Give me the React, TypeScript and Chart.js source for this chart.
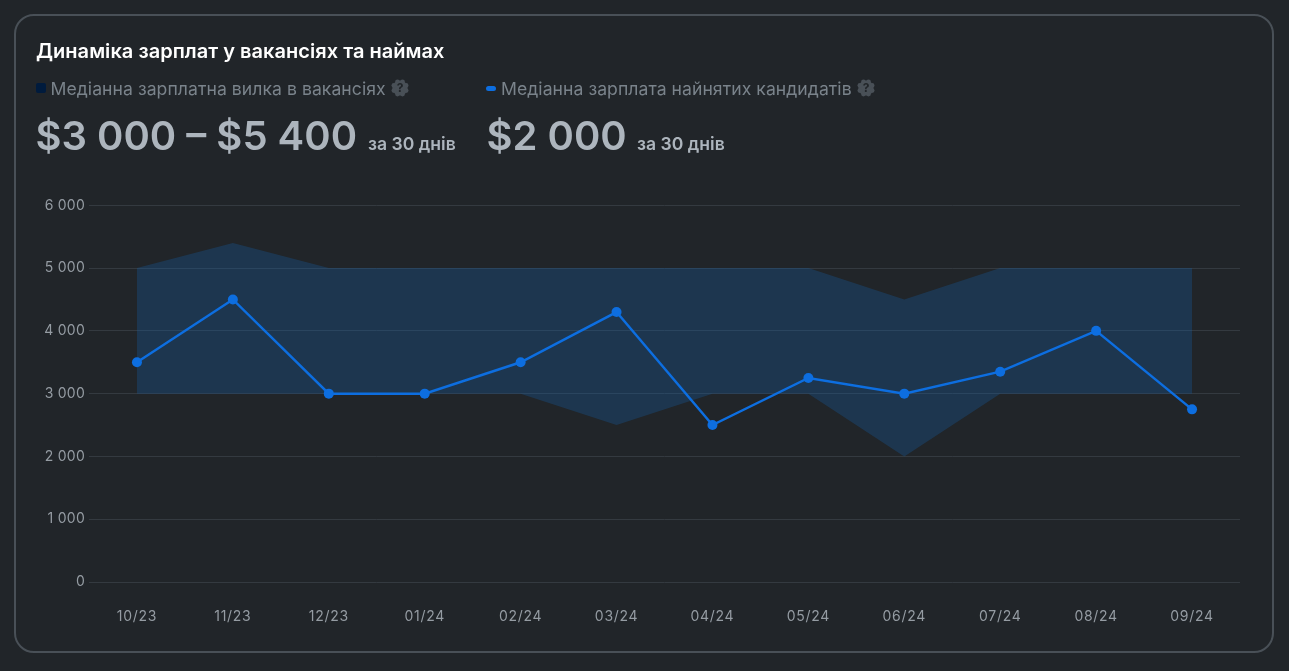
import React, { useEffect, useRef } from "react";
import { Chart, registerables } from "chart.js";

Chart.register(...registerables);

const categories = ["10/23", "11/23", "12/23", "01/24", "02/24", "03/24", "04/24", "05/24", "06/24", "07/24", "08/24", "09/24"];
const vacancyLow = [3000, 3000, 3000, 3000, 3000, 2500, 3000, 3000, 2000, 3000, 3000, 3000];
const vacancyHigh = [5000, 5400, 5000, 5000, 5000, 5000, 5000, 5000, 4500, 5000, 5000, 5000];
const hiredSalary = [3500, 4500, 3000, 3000, 3500, 4300, 2500, 3250, 3000, 3350, 4000, 2750];
const yTicks = [0, 1000, 2000, 3000, 4000, 5000, 6000];

const FONT = "Inter, 'Noto Sans', sans-serif";
const BLUE = "#0d6ee0";

const fmt = (v: number) => String(v).replace(/\B(?=(\d{3})+$)/g, " ");

const abs = (left: number, top: number, extra: React.CSSProperties): React.CSSProperties => ({
  position: "absolute",
  left,
  top,
  whiteSpace: "nowrap",
  fontFamily: FONT,
  ...extra,
});

function Help({ x, y }: { x: number; y: number }) {
  const bumps = [0, 1, 2, 3, 4, 5, 6, 7].map((i) => (i * Math.PI) / 4 + Math.PI / 8);
  return (
    <svg width={18} height={18} viewBox="0 0 18 18" style={abs(x, y, {})}>
      <circle cx={9} cy={9} r={7.6} fill="#495057" />
      {bumps.map((a, i) => (
        <circle key={i} cx={9 + 6.6 * Math.cos(a)} cy={9 + 6.6 * Math.sin(a)} r={2.4} fill="#495057" />
      ))}
      <text x={9} y={13.2} textAnchor="middle" fontSize={12} fontWeight={700} fontFamily="Inter" fill="#212529">
        ?
      </text>
    </svg>
  );
}

const spacingPlugin = {
  id: "tickSpacing",
  beforeDraw(chart: any) {
    const wrap = (scale: any, spacing: string) => {
      if (scale.__wrapped) return;
      scale.__wrapped = true;
      const orig = scale.drawLabels.bind(scale);
      scale.drawLabels = (area: any) => {
        const ctx = chart.ctx;
        ctx.letterSpacing = spacing;
        orig(area);
        ctx.letterSpacing = "0px";
      };
    };
    wrap(chart.scales.x, "0.7px");
    wrap(chart.scales.y, "0.25px");
  },
};

export default function App() {
  const ref = useRef<HTMLCanvasElement>(null);
  useEffect(() => {
    const chart = new Chart(ref.current!, {
      type: "line",
      plugins: [spacingPlugin],
      data: {
        labels: categories,
        datasets: [
          {
            label: "Медіанна зарплата найнятих кандидатів",
            data: hiredSalary,
            borderColor: BLUE,
            backgroundColor: BLUE,
            borderWidth: 2.5,
            pointRadius: 5,
            pointBackgroundColor: BLUE,
            pointBorderWidth: 0,
            tension: 0,
            order: 0,
          },
          {
            label: "low",
            data: vacancyLow,
            borderWidth: 0,
            pointRadius: 0,
            fill: false,
            tension: 0,
            order: 2,
          },
          {
            label: "Медіанна зарплатна вилка в вакансіях",
            data: vacancyHigh,
            borderWidth: 0,
            pointRadius: 0,
            backgroundColor: "rgba(20,95,170,0.3)",
            fill: "-1",
            tension: 0,
            order: 1,
          },
        ],
      },
      options: {
        animation: false,
        responsive: false,
        devicePixelRatio: 1,
        layout: { padding: { left: 0, right: 49, top: 205.3, bottom: 0 } },
        plugins: { legend: { display: false }, tooltip: { enabled: false } },
        scales: {
          x: {
            offset: true,
            afterFit: (s: any) => {
              s.height = 89;
            },
            grid: { display: false },
            border: { display: false },
            ticks: { color: "#959ca3", font: { family: "Inter", size: 14 }, padding: 18, maxRotation: 0, autoSkip: false },
          },
          y: {
            min: 0,
            max: 6000,
            afterFit: (s: any) => {
              s.width = 89;
            },
            afterBuildTicks: (s: any) => {
              s.ticks = yTicks.map((value) => ({ value }));
            },
            grid: { color: "#343a40", lineWidth: 1, drawTicks: false },
            border: { display: false },
            ticks: {
              color: "#959ca3",
              font: { family: "Inter", size: 14 },
              padding: 4,
              callback: (v: any) => fmt(Number(v)),
            },
          },
        },
      },
    } as any);
    return () => chart.destroy();
  }, []);

  return (
    <div style={{ position: "fixed", inset: 0, background: "#212529", overflow: "hidden" }}>
      <div
        style={{
          position: "absolute",
          left: 14,
          top: 14,
          width: 1256,
          height: 635,
          border: "2px solid #495057",
          borderRadius: 20,
        }}
      />
      <canvas ref={ref} width={1289} height={671} style={{ position: "absolute", left: 0, top: 0, width: 1289, height: 671 }} />
      <div style={abs(36, 39, { color: "#fff", fontSize: 20, fontWeight: 600, lineHeight: "24px", letterSpacing: 0.03 })}>
        Динаміка зарплат у вакансіях та наймах
      </div>
      <div style={abs(36, 83, { width: 10, height: 10, borderRadius: 2, background: "#001b3d" })} />
      <div style={abs(50.5, 78, { color: "#7a838b", fontSize: 17.6, lineHeight: "22px", letterSpacing: 0.05 })}>
        Медіанна зарплатна вилка в вакансіях
      </div>
      <Help x={391} y={79} />
      <div style={abs(35.5, 108, { color: "#adb5bd", fontSize: 40, fontWeight: 600, lineHeight: "56px" })}>$3 000 – $5 400</div>
      <div style={abs(368, 133, { color: "#adb5bd", fontSize: 17.6, fontWeight: 600, lineHeight: "22px" })}>за 30 днів</div>

      <div style={abs(486, 86, { width: 10, height: 5, borderRadius: 3, background: BLUE })} />
      <div style={abs(501, 78, { color: "#7a838b", fontSize: 17.6, lineHeight: "22px", letterSpacing: 0.05 })}>
        Медіанна зарплата найнятих кандидатів
      </div>
      <Help x={857} y={79} />
      <div style={abs(486.5, 108, { color: "#adb5bd", fontSize: 40, fontWeight: 600, lineHeight: "56px" })}>$2 000</div>
      <div style={abs(637, 133, { color: "#adb5bd", fontSize: 17.6, fontWeight: 600, lineHeight: "22px" })}>за 30 днів</div>
    </div>
  );
}
